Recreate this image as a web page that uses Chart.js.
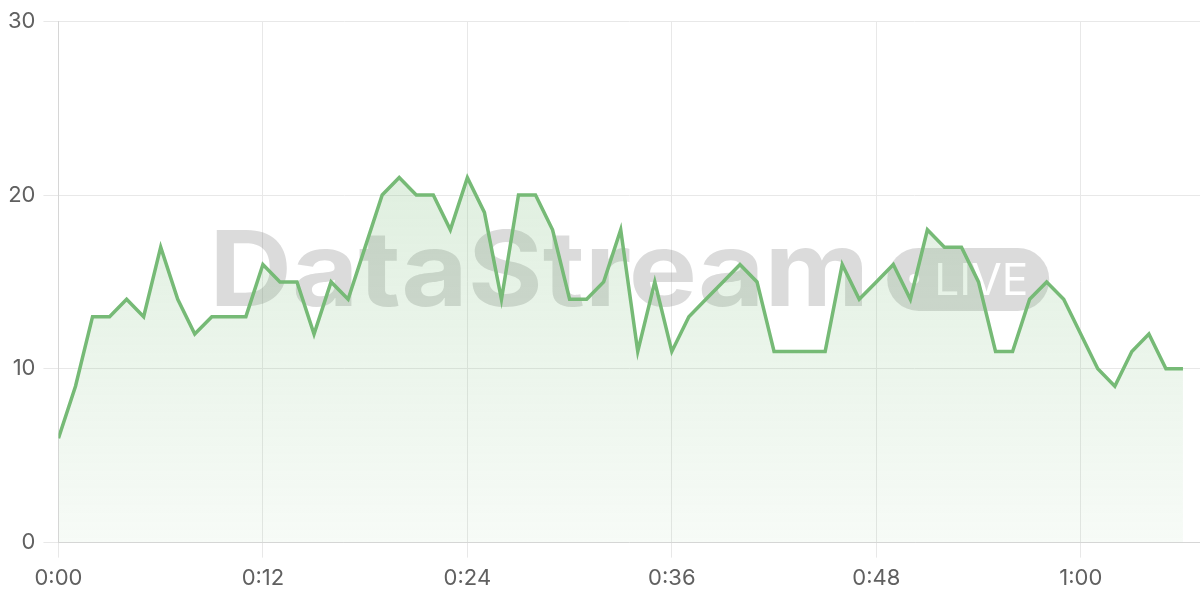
<!DOCTYPE html>
<html>
<head>
<meta charset="utf-8">
<script src="https://cdn.jsdelivr.net/npm/chart.js@4/dist/chart.umd.min.js"></script>
<style>
html, body { margin: 0; padding: 0; background: #fff; }
#wrap { width: 1200px; height: 600px; }
</style>
</head>
<body>
<div id="wrap"><canvas id="liveChart" width="1200" height="600"></canvas></div>
<script>
// 초 단위 값 (0:00 ~ 1:06)
const values = [6, 9, 13, 13, 14, 13, 17, 14, 12, 13, 13, 13, 16, 15, 15, 12, 15, 14, 17, 20,
                21, 20, 20, 18, 21, 19, 14, 20, 20, 18, 14, 14, 15, 18, 11, 15, 11, 13, 14, 15,
                16, 15, 11, 11, 11, 11, 16, 14, 15, 16, 14, 18, 17, 17, 15, 11, 11, 14, 15, 14,
                12, 10, 9, 11, 12, 10, 10];

// x축 눈금 (초) 과 라벨
const tickSeconds = [0, 12, 24, 36, 48, 60];
const tickLabels = ['0:00', '0:12', '0:24', '0:36', '0:48', '1:00'];
// y축 눈금
const yTicks = [0, 10, 20, 30];

const lineColor = 'rgb(118, 186, 118)';
const tickFont = { family: 'Inter', size: 22 };

// 배경 워터마크 (DataStream + LIVE 배지)
const watermark = {
    id: 'watermark',
    beforeDatasetsDraw(chart) {
        const ctx = chart.ctx;
        const a = chart.chartArea;
        const cx = (a.left + a.right) / 2;
        const cy = (a.top + a.bottom) / 2;
        ctx.save();
        ctx.fillStyle = 'rgba(105, 105, 105, 0.24)';
        ctx.font = 'bold 104px Inter';
        ctx.textBaseline = 'alphabetic';
        const w = ctx.measureText('DataStream').width;
        ctx.save();
        ctx.translate(cx - 420, cy + 24);
        ctx.scale(660 / w, 1);
        ctx.fillText('DataStream', 0, 0);
        ctx.restore();

        // LIVE 배지
        const px = cx + 258, py = cy - 34, pw = 162, ph = 63;
        ctx.beginPath();
        ctx.roundRect(px, py, pw, ph, ph / 2);
        ctx.fill();
        ctx.fillStyle = '#fff';
        ctx.beginPath();
        ctx.arc(px + 27, py + 31, 5, 0, Math.PI * 2);
        ctx.fill();
        ctx.font = '44px Inter';
        const lw = ctx.measureText('LIVE').width;
        ctx.save();
        ctx.translate(px + 47, py + 47);
        ctx.scale(94 / lw, 1);
        ctx.fillText('LIVE', 0, 0);
        ctx.restore();
        ctx.restore();
    }
};

const ctx = document.getElementById('liveChart').getContext('2d');

const chart = new Chart(ctx, {
    type: 'line',
    data: {
        datasets: [{
            label: 'live',
            data: values.map((v, i) => ({ x: i, y: v })),
            borderColor: lineColor,
            borderWidth: 3.5,
            pointRadius: 0,
            tension: 0,
            fill: 'origin',
            backgroundColor: function(context) {
                const area = context.chart.chartArea;
                if (!area) return 'rgba(118, 186, 118, 0.15)';
                const g = context.chart.ctx.createLinearGradient(0, area.top, 0, area.bottom);
                g.addColorStop(0, 'rgba(118, 186, 118, 0.30)');
                g.addColorStop(1, 'rgba(118, 186, 118, 0.06)');
                return g;
            }
        }]
    },
    options: {
        responsive: false,
        animation: false,
        layout: { padding: { top: 5, left: 0, right: 0, bottom: 0 } },
        plugins: {
            legend: { display: false },
            tooltip: { enabled: false }
        },
        scales: {
            x: {
                type: 'linear',
                min: 0,
                max: 67,
                afterBuildTicks: (scale) => { scale.ticks = tickSeconds.map(v => ({ value: v })); },
                ticks: {
                    callback: (value) => tickLabels[tickSeconds.indexOf(value)],
                    color: '#606060',
                    font: tickFont,
                    padding: 8,
                    maxRotation: 0
                },
                grid: { color: '#e8e8e8', tickLength: 15 },
                border: { color: '#d6d6d6' }
            },
            y: {
                min: 0,
                max: 30,
                afterBuildTicks: (scale) => { scale.ticks = yTicks.map(v => ({ value: v })); },
                ticks: {
                    color: '#606060',
                    font: tickFont,
                    padding: 8
                },
                grid: { color: '#e8e8e8', tickLength: 15 },
                border: { color: '#d6d6d6' }
            }
        }
    },
    plugins: [watermark]
});
</script>
</body>
</html>
